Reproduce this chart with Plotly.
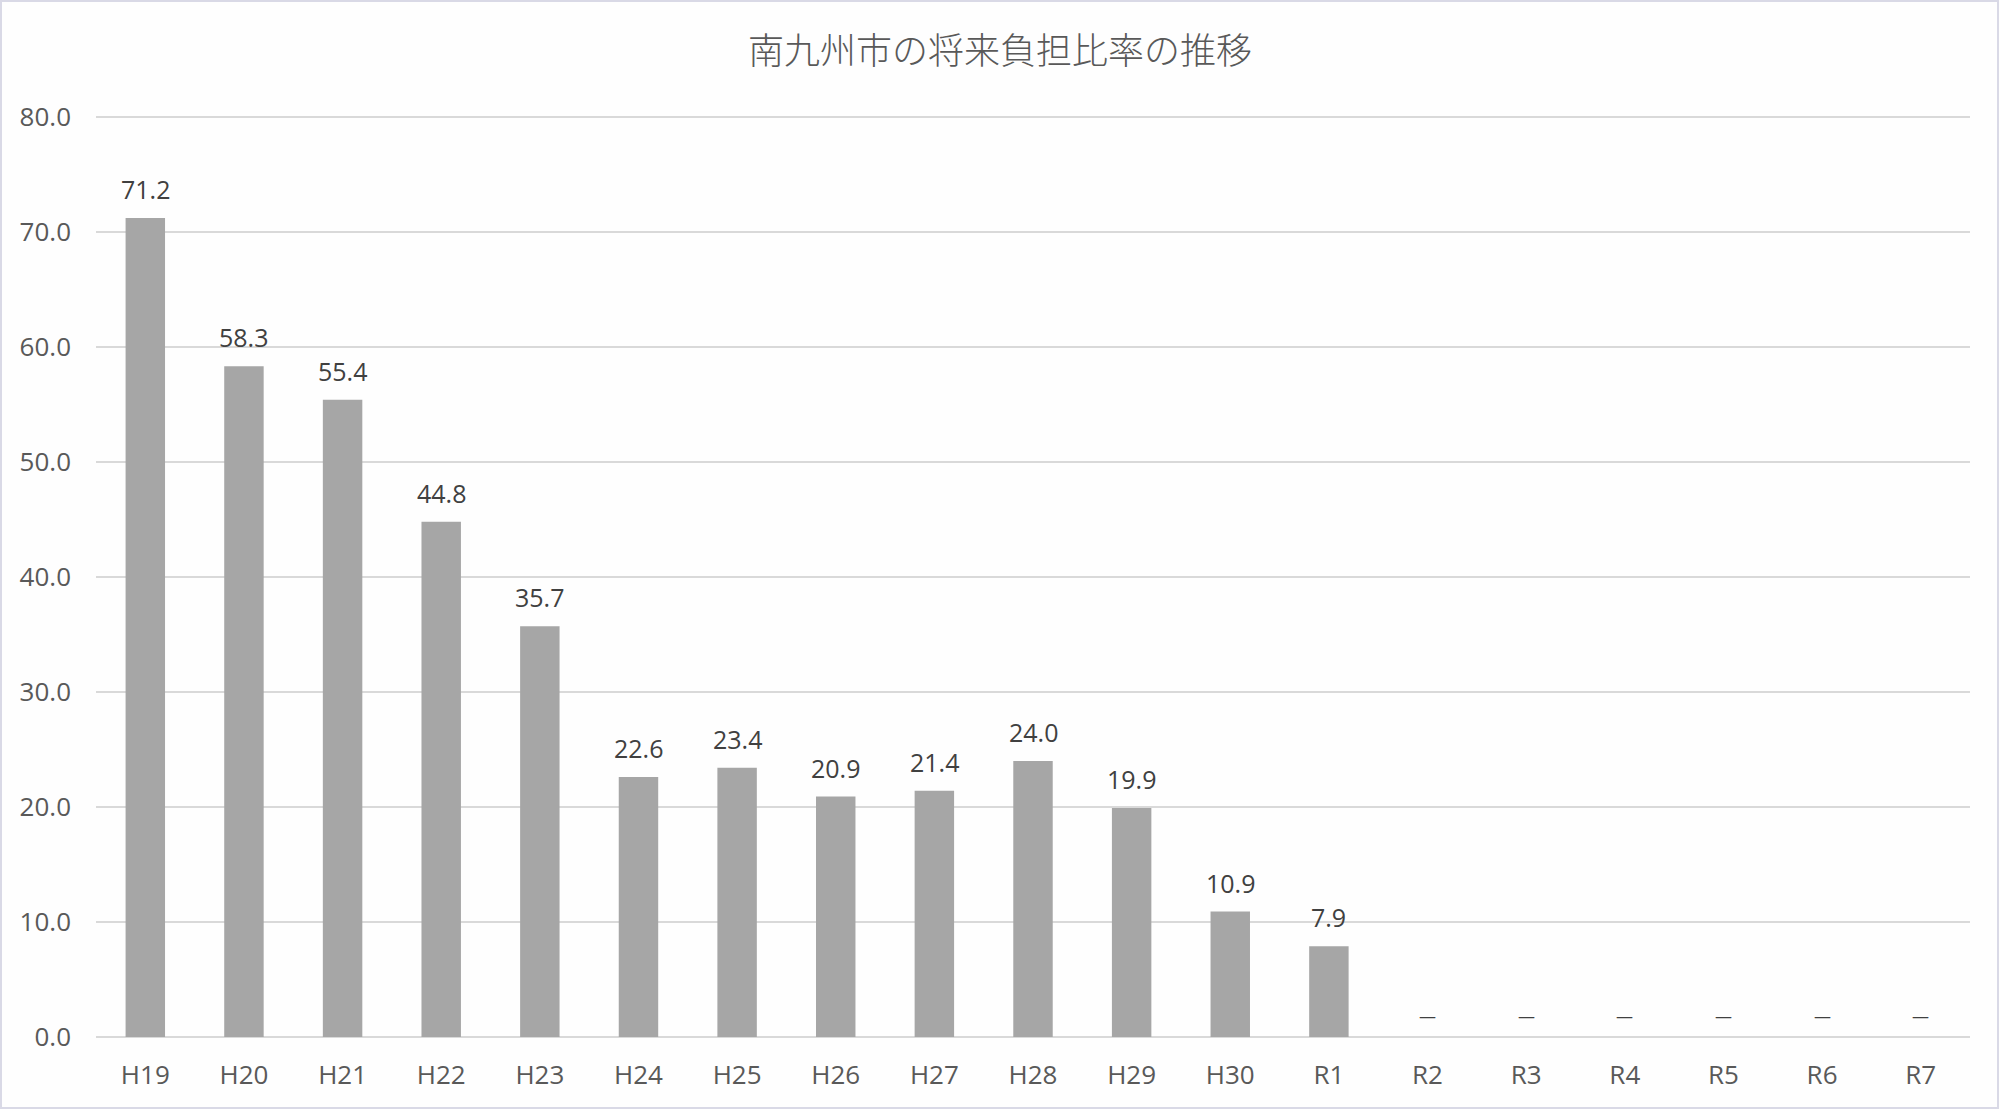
"""
南九州市の将来負担比率の推移 (棒グラフ)
"""

import plotly.graph_objects as go

# 年度ラベル
years = ["H19", "H20", "H21", "H22", "H23", "H24", "H25", "H26", "H27", "H28",
         "H29", "H30", "R1", "R2", "R3", "R4", "R5", "R6", "R7"]
# 将来負担比率 (%)  R2以降は「－」表示 (0)
ratios = [71.2, 58.3, 55.4, 44.8, 35.7, 22.6, 23.4, 20.9, 21.4, 24.0,
          19.9, 10.9, 7.9, 0, 0, 0, 0, 0, 0]
# データラベル
labels = [f"{v:.1f}" if v else "—" for v in ratios]

TEXT_COLOR = "#595959"
GRID_COLOR = "#D9D9D9"
BAR_COLOR = "#A6A6A6"
FONT = "Open Sans, Noto Sans CJK JP, sans-serif"

fig = go.Figure()

fig.add_trace(
    go.Bar(
        x=years,
        y=ratios,
        marker=dict(color=BAR_COLOR, line=dict(width=0)),
        showlegend=False,
        hoverinfo="x+y",
    )
)

# データラベル (棒の上)
for x, y, t in zip(years, ratios, labels):
    fig.add_annotation(
        x=x, y=y, text=t,
        showarrow=False,
        yanchor="bottom",
        yshift=10 if y else 8,
        font=dict(size=25 if y else 17, color="#404040", family=FONT),
    )

fig.update_layout(
    title=dict(
        text="南九州市の将来負担比率の推移",
        font=dict(size=36, color=TEXT_COLOR, family="Noto Sans CJK JP", weight=300),
        x=0.5, xanchor="center",
        y=0.954, yanchor="middle",
    ),
    width=2000,
    height=1109,
    margin=dict(l=96, r=30, t=111, b=72),
    bargap=0.6,
    plot_bgcolor="#FEFEFE",
    paper_bgcolor="#FEFEFE",
    font=dict(family=FONT, color=TEXT_COLOR),
)

fig.update_yaxes(
    range=[0, 80.5],
    dtick=10,
    tickformat=".1f",
    gridcolor=GRID_COLOR,
    gridwidth=1.5,
    zeroline=True,
    zerolinecolor=GRID_COLOR,
    zerolinewidth=1.5,
    showline=False,
    tickfont=dict(size=26, color=TEXT_COLOR),
    ticks="",
    ticklabelstandoff=24,
)
fig.update_xaxes(
    showgrid=False,
    showline=False,
    tickfont=dict(size=26, color=TEXT_COLOR),
    ticks="",
    ticklabelstandoff=20,
)

# 外枠
fig.add_shape(
    type="rect", xref="paper", yref="paper",
    x0=-95 / 1874, x1=1 + 28 / 1874, y0=-71 / 926, y1=1 + 110 / 926,
    line=dict(color="#D9D9E6", width=2),
)

fig.write_html(
    "out.html",
    config={"displayModeBar": False},
    post_script="document.body.style.margin='0';",
)
